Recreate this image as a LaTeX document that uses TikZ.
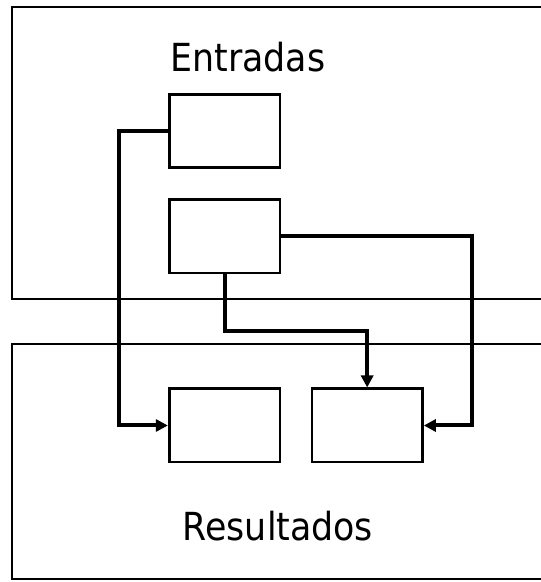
\documentclass[tikz,border=0pt]{standalone}
\usepackage{fontspec}
\setmainfont{DejaVu Sans Condensed}
\usepackage{tikz}
\usetikzlibrary{positioning, arrows.meta}

\begin{document}
\begin{tikzpicture}[
    x = 0.75pt, y = 0.75pt,
    node distance = 22pt,
    panel/.style = {draw, line width=1.7pt},
    caja/.style = {
        draw, rectangle, line width=2pt,
        minimum width=83pt, minimum height=55pt, inner sep=0pt
    },
    flecha/.style = {line width=3pt, -{Triangle[length=9pt, width=9pt]}},
    titulo/.style = {font=\fontsize{29}{34}\selectfont, anchor=base, inner sep=0pt}
  ]
    \useasboundingbox (0,0) rectangle (541,582);
    \clip (0,0) rectangle (541,582);
    \draw[panel] (12,283) rectangle (580,575);  % panel de entradas
    \draw[panel] (12,3) rectangle (580,238);  % panel de resultados
    \node[titulo] (entradas) at (248,510) {Entradas};
    \node[titulo] (resultados) at (278,41) {Resultados};
    \node[caja] (e1) at (224.5,451) {};  % entrada 1
    \node[caja, below=of e1] (e2) {};  % entrada 2
    \node[caja] (r1) at (224.5,156.5) {};  % resultado 1
    \node[caja, right=of r1] (r2) {};  % resultado 2
    \draw[flecha] (e1.west) -- ++(-49,0) |- (r1.west);
    \draw[flecha] (e2.east) -- ++(191,0) |- (r2.east);
    \draw[flecha] (e2.south) -- ++(0,-57) -| (r2.north);
\end{tikzpicture}
\end{document}
